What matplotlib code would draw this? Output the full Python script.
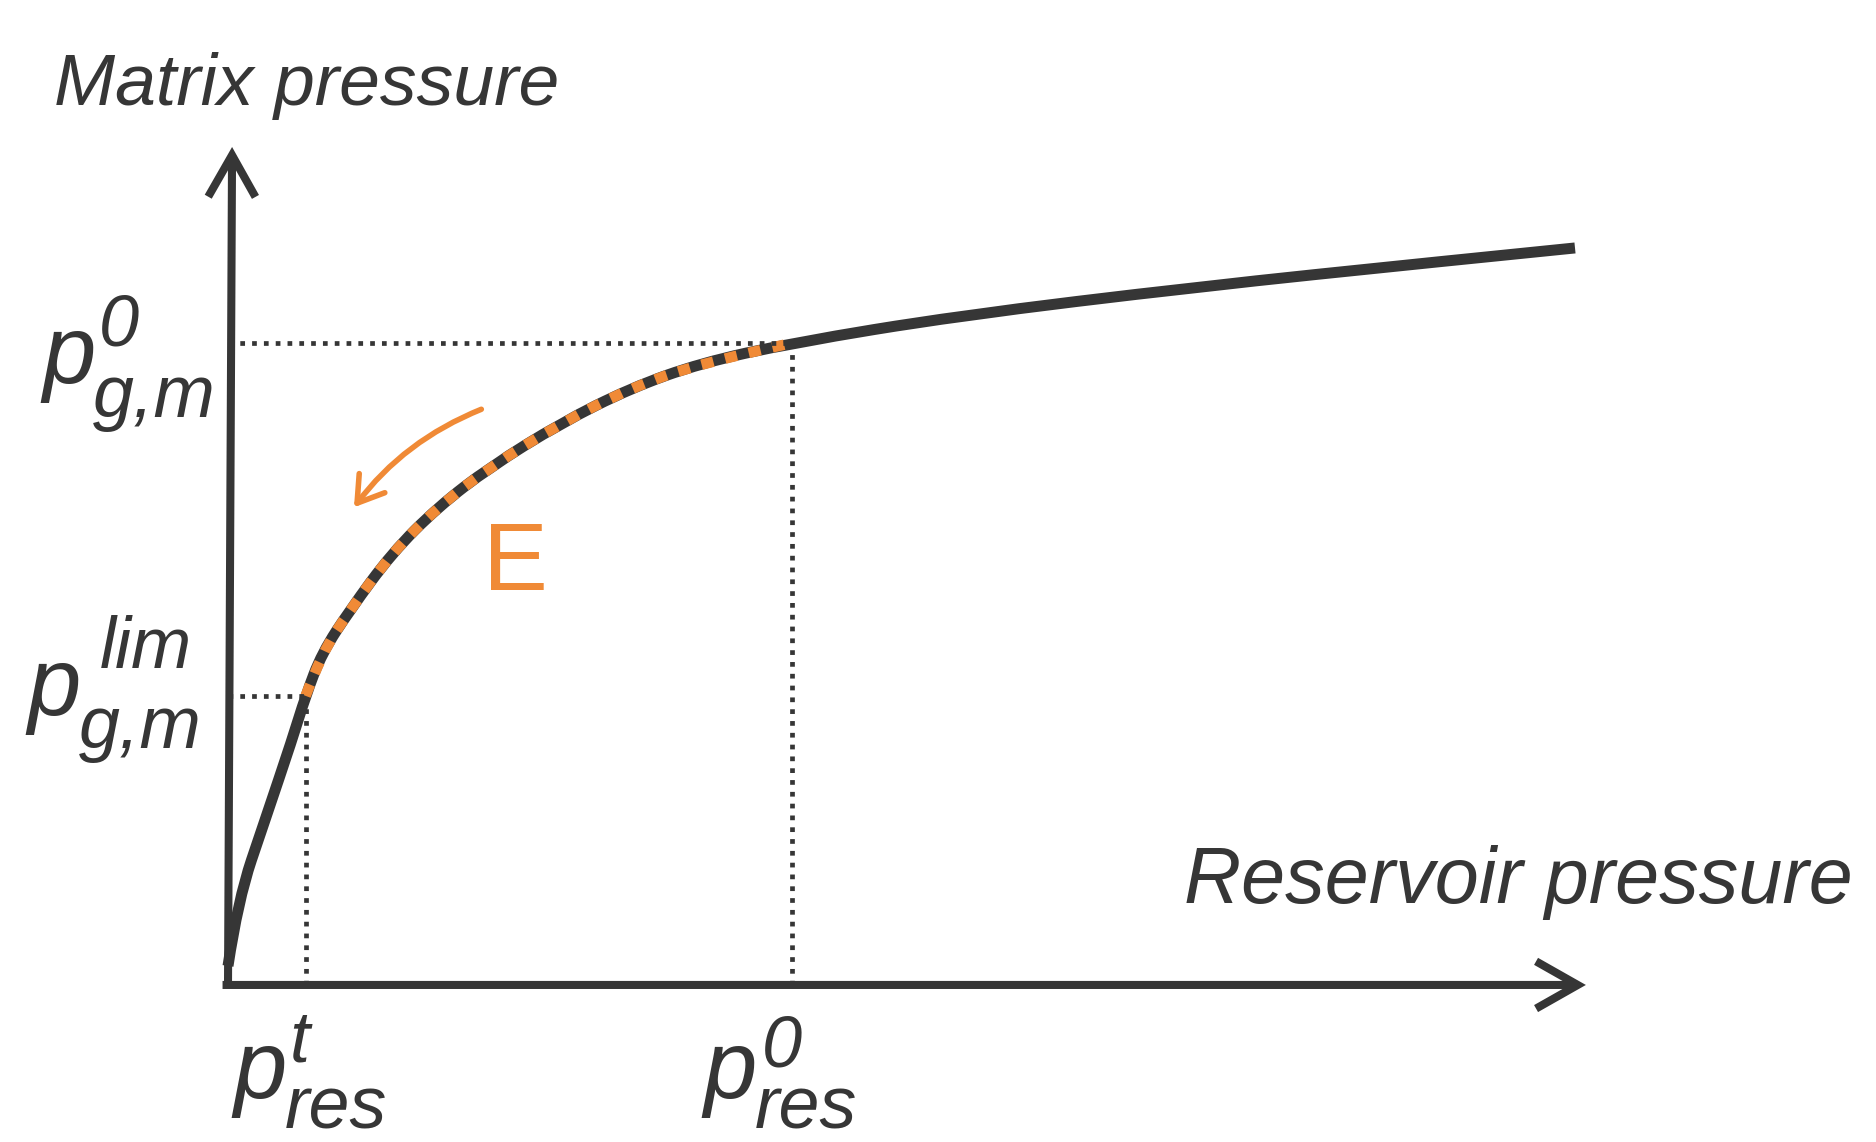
import matplotlib
matplotlib.use('Agg')
import matplotlib.pyplot as plt
from matplotlib.path import Path
from matplotlib.patches import PathPatch

DARK = '#363636'
ORANGE = '#F08A36'
FONT = 'Liberation Sans'

# curve (arbitrary pressure units)
reservoir_p = [0.0, 0.73, 2.72, 4.70, 5.70, 6.90, 8.96, 12.04, 15.42, 19.24,
               24.45, 29.59, 34.73, 41.41, 53.52, 71.07, 88.69, 98.90]
matrix_p = [2.27, 10.14, 19.69, 29.24, 34.50, 39.62, 44.75, 51.55, 57.04,
            61.81, 67.06, 71.24, 74.22, 76.61, 79.83, 83.29, 86.28, 87.95]

# marked states on the curve
p_res_t, p_gm_lim = 5.70, 34.50
p_res_0, p_gm_0 = 41.41, 76.61

# length of the two axes
x_axis_end = 99.7
y_axis_end = 100.0


def smoothPath(xs, ys):
    # quadratic bezier through the midpoints, the read points act as controls
    pts = list(zip(xs, ys))
    verts = [pts[0]]
    codes = [Path.MOVETO]
    for i in range(1, len(pts) - 1):
        if i == len(pts) - 2:
            end = pts[-1]
        else:
            end = ((pts[i][0] + pts[i + 1][0]) / 2, (pts[i][1] + pts[i + 1][1]) / 2)
        verts += [pts[i], end]
        codes += [Path.CURVE3, Path.CURVE3]
    return Path(verts, codes)


def drawAxisArrow(ax, start, end):
    ax.annotate('', xy=end, xytext=start,
                arrowprops=dict(arrowstyle='->,head_length=3.0,head_width=1.7',
                                lw=5.8, color=DARK, mutation_scale=10,
                                shrinkA=0, shrinkB=0, joinstyle='miter',
                                capstyle='butt'))


def pressureLabel(ax, x, y, sup, sub, sup_off=(41, 27), sub_off=(37, -22)):
    style = dict(family=FONT, style='italic', color=DARK)
    ax.text(x, y, 'p', fontsize=69, **style)
    ax.annotate(sup, xy=(x, y), xytext=sup_off, textcoords='offset points',
                fontsize=52, **style)
    ax.annotate(sub, xy=(x, y), xytext=sub_off, textcoords='offset points',
                fontsize=53, **style)


fig = plt.figure(figsize=(18.76, 11.42), dpi=100)
ax = fig.add_axes([0, 0, 1, 1])
ax.set_xlim(-16.74, 121.0)
ax.set_ylim(-18.74, 117.54)
ax.axis('off')

# guide lines to the marked states
dotted = dict(color=DARK, lw=3.4, linestyle=(0, (1, 1.5)), dash_capstyle='butt')
ax.plot([0, p_res_0], [p_gm_0, p_gm_0], **dotted)
ax.plot([p_res_0, p_res_0], [0, p_gm_0], **dotted)
ax.plot([0, p_res_t], [p_gm_lim, p_gm_lim], **dotted)
ax.plot([p_res_t, p_res_t], [0, p_gm_lim], **dotted)

# main curve
ax.add_patch(PathPatch(smoothPath(reservoir_p, matrix_p), fill=False,
                       edgecolor=DARK, lw=7.9, joinstyle='round',
                       capstyle='butt'))

# section E, striped orange over the black curve
e_x = [x for x in reservoir_p if p_res_t <= x <= p_res_0]
e_y = [y for x, y in zip(reservoir_p, matrix_p) if p_res_t <= x <= p_res_0]
ax.add_patch(PathPatch(smoothPath(e_x, e_y), fill=False, edgecolor=ORANGE,
                       lw=7.6, linestyle=(0, (1.15, 1.15)), capstyle='butt'))

# axes
drawAxisArrow(ax, (-0.4, 0), (x_axis_end, 0))
drawAxisArrow(ax, (0, -0.2), (0.3, y_axis_end))

# direction of depletion
ax.annotate('', xy=(9.25, 57.0), xytext=(18.6, 68.7),
            arrowprops=dict(arrowstyle='->,head_length=1.8,head_width=1.15',
                            lw=4.0, color=ORANGE, mutation_scale=10,
                            shrinkA=0, shrinkB=0,
                            connectionstyle='arc3,rad=0.14'))
ax.text(18.75, 47.1, 'E', fontsize=70, family=FONT, color=ORANGE)

# axis titles
ax.text(-12.8, 105.0, 'Matrix pressure', fontsize=52.8, family=FONT,
        style='italic', color=DARK)
ax.text(70.2, 9.8, 'Reservoir pressure', fontsize=57, family=FONT,
        style='italic', color=DARK)

pressureLabel(ax, -13.66, 71.8, '0', 'g,m', sub_off=(37, -24))
pressureLabel(ax, -14.7, 32.2, 'lim', 'g,m', sup_off=(52, 34), sub_off=(37, -24))
pressureLabel(ax, 0.37, -13.5, 't', 'res', sup_off=(41, 26))
pressureLabel(ax, 34.9, -13.5, '0', 'res', sup_off=(42, 23))

fig.savefig('out.png', dpi=100)
